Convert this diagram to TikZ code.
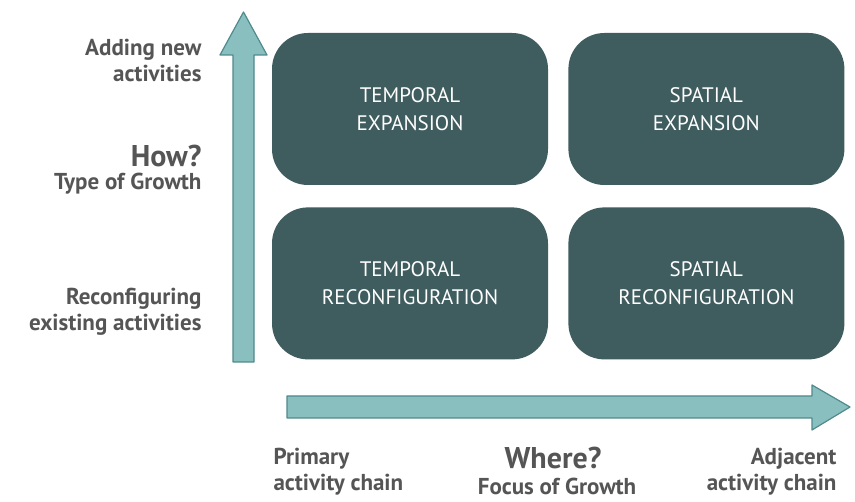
\documentclass[tikz,border=0pt]{standalone}
\usepackage{fontspec}
\setmainfont{PT Sans}
\usetikzlibrary{positioning}
\definecolor{boxteal}{HTML}{3F5D5F}
\definecolor{arrowfill}{HTML}{8ABFC0}
\definecolor{arrowline}{HTML}{4F8A8C}
\definecolor{labelgray}{HTML}{555555}

\begin{document}
\begin{tikzpicture}[x=1pt,y=-1pt,
  quad/.style={fill=boxteal,text=white,rounded corners=36pt,minimum width=276pt,
    minimum height=152pt,align=center,font=\fontsize{21}{28}\selectfont},
  axislabel/.style={text=labelgray,font=\bfseries\fontsize{23}{26}\selectfont},
  bigq/.style={text=labelgray,font=\bfseries\fontsize{30}{32}\selectfont},
  fatarrow/.style={fill=arrowfill,draw=arrowline,line width=1.2pt,line join=round}]
  \useasboundingbox[fill=white] (0,0) rectangle (855,502);

  % axes
  \draw[fatarrow] (233,362) -- (233,55) -- (220,55) -- (243.5,12)
    -- (267,55) -- (254,55) -- (254,362) -- cycle;
  \draw[fatarrow] (287,396) -- (812,396) -- (812,385) -- (850,407)
    -- (812,430) -- (812,418) -- (287,418) -- cycle;

  % quadrants
  \node[quad] (tempexp) at (410,109) {TEMPORAL\\EXPANSION};
  \node[quad,right=20pt of tempexp] (spatexp) {SPATIAL\\EXPANSION};
  \node[quad,below=22pt of tempexp] (temprec) {TEMPORAL\\RECONFIGURATION};
  \node[quad,below=22pt of spatexp] (spatrec) {SPATIAL\\RECONFIGURATION};

  % vertical axis labels
  \node[axislabel,anchor=east,align=right] (adding) at (205,60) {Adding new\\activities};
  \node[bigq,anchor=east] (how) at (205,156) {How?};
  \node[axislabel,anchor=east] (type) at (205,184) {Type of Growth};
  \node[axislabel,anchor=east,align=right] (reconf) at (205,312) {Reconfiguring\\existing activities};

  % horizontal axis labels
  \node[axislabel,anchor=west,align=left] (primary) at (270,472) {Primary\\activity chain};
  \node[bigq] (where) at (553,458) {Where?};
  \node[axislabel] (focus) at (557,486) {Focus of Growth};
  \node[axislabel,anchor=east,align=right] (adjacent) at (840,472) {Adjacent\\activity chain};
\end{tikzpicture}
\end{document}
